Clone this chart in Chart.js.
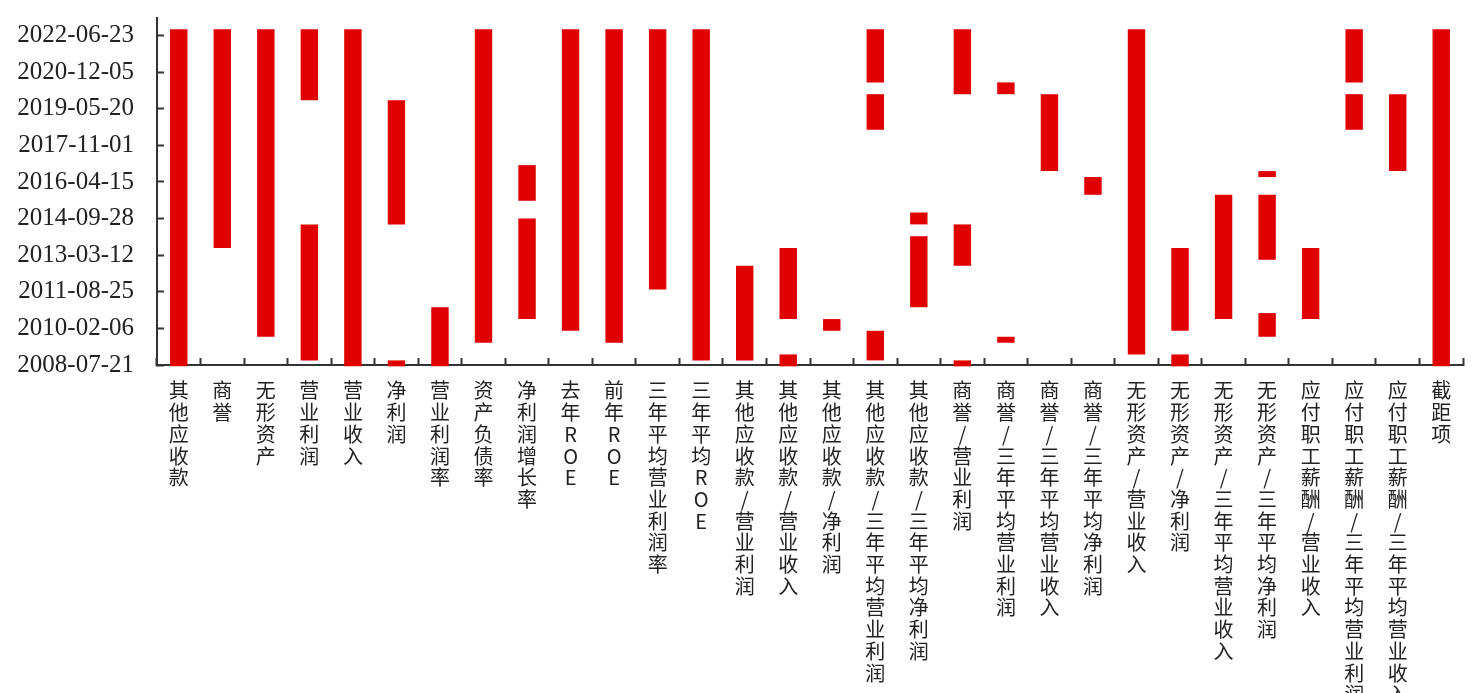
<!DOCTYPE html>
<html>
<head>
<meta charset="utf-8">
<script src="https://cdn.jsdelivr.net/npm/chart.js@4/dist/chart.umd.min.js"></script>
<style>
html, body { margin: 0; padding: 0; background: #fff; }
#wrap { width: 1479px; height: 693px; position: relative; }
</style>
</head>
<body>
<div id="wrap"><canvas id="chart"></canvas></div>
<script>
// categories (x axis)
const categories = [
  '其他应收款', '商誉', '无形资产', '营业利润', '营业收入', '净利润', '营业利润率', '资产负债率',
  '净利润增长率', '去年ROE', '前年ROE', '三年平均营业利润率', '三年平均ROE',
  '其他应收款/营业利润', '其他应收款/营业收入', '其他应收款/净利润',
  '其他应收款/三年平均营业利润', '其他应收款/三年平均净利润',
  '商誉/营业利润', '商誉/三年平均营业利润', '商誉/三年平均营业收入', '商誉/三年平均净利润',
  '无形资产/营业收入', '无形资产/净利润', '无形资产/三年平均营业收入', '无形资产/三年平均净利润',
  '应付职工薪酬/营业收入', '应付职工薪酬/三年平均营业利润', '应付职工薪酬/三年平均营业收入', '截距项'
];

// date ranges, newest segment first, one entry per category
const segA = [
  ['2008-06-30', '2022-09-30'], ['2013-06-30', '2022-09-30'], ['2009-09-30', '2022-09-30'],
  ['2019-09-30', '2022-09-30'], ['2008-06-30', '2022-09-30'], ['2014-06-30', '2019-09-30'],
  ['2008-06-30', '2010-12-31'], ['2009-06-30', '2022-09-30'], ['2015-06-30', '2016-12-31'],
  ['2009-12-31', '2022-09-30'], ['2009-06-30', '2022-09-30'], ['2011-09-30', '2022-09-30'],
  ['2008-09-30', '2022-09-30'], ['2008-09-30', '2012-09-30'], ['2010-06-30', '2013-06-30'],
  ['2009-12-31', '2010-06-30'], ['2020-06-30', '2022-09-30'], ['2014-06-30', '2014-12-31'],
  ['2019-12-31', '2022-09-30'], ['2019-12-31', '2020-06-30'], ['2016-09-30', '2019-12-31'],
  ['2015-09-30', '2016-06-30'], ['2008-12-31', '2022-09-30'], ['2009-12-31', '2013-06-30'],
  ['2010-06-30', '2015-09-30'], ['2016-06-30', '2016-09-30'], ['2010-06-30', '2013-06-30'],
  ['2020-06-30', '2022-09-30'], ['2016-09-30', '2019-12-31'], ['2008-06-30', '2022-09-30']
];
const segB = [
  null, null, null, ['2008-09-30', '2014-06-30'], null, ['2008-06-30', '2008-09-30'],
  null, null, ['2010-06-30', '2014-09-30'], null, null, null,
  null, null, ['2008-06-30', '2008-12-31'], null, ['2018-06-30', '2019-12-31'], ['2010-12-31', '2013-12-31'],
  ['2012-09-30', '2014-06-30'], ['2009-06-30', '2009-09-30'], null, null, null, ['2008-06-30', '2008-12-31'],
  null, ['2012-12-31', '2015-09-30'], null, ['2018-06-30', '2019-12-31'], null, null
];
const segC = [
  null, null, null, null, null, null, null, null, null, null, null, null, null, null, null, null,
  ['2008-09-30', '2009-12-31'], null, ['2008-06-30', '2008-09-30'], null, null, null, null, null,
  null, ['2009-09-30', '2010-09-30'], null, null, null, null
];

// y axis tick labels
const yTickLabels = [
  '2008-07-21', '2010-02-06', '2011-08-25', '2013-03-12', '2014-09-28',
  '2016-04-15', '2017-11-01', '2019-05-20', '2020-12-05', '2022-06-23'
];

function toDay(s) {
  const p = s.split('-').map(Number);
  return Date.UTC(p[0], p[1] - 1, p[2]) / 86400000;
}
function fromDay(d) {
  return new Date(Math.round(d) * 86400000).toISOString().slice(0, 10);
}
function toRange(seg) {
  return seg ? [toDay(seg[0]), toDay(seg[1])] : null;
}

const yTicks = yTickLabels.map(toDay);
const yMin = yTicks[0];
const yMax = yTicks[0] + 9.48 * (yTicks[1] - yTicks[0]);

const red = '#e00000';
const axisColor = '#333';

const datasets = [segA, segB, segC].map(seg => ({
  data: seg.map(toRange),
  backgroundColor: red,
  borderWidth: 0,
  barPercentage: 0.4,
  categoryPercentage: 1.0,
  clip: false
}));

new Chart(document.getElementById('chart').getContext('2d'), {
  type: 'bar',
  data: { labels: categories, datasets: datasets },
  options: {
    responsive: true,
    maintainAspectRatio: false,
    animation: false,
    layout: { padding: { top: 18, right: 16, left: 0, bottom: 0 } },
    plugins: { legend: { display: false }, tooltip: { enabled: false } },
    scales: {
      x: {
        stacked: true,
        offset: true,
        grid: { offset: true, drawOnChartArea: false, tickLength: -7, tickWidth: 2, tickColor: axisColor },
        border: { color: axisColor, width: 2 },
        ticks: {
          autoSkip: false,
          maxRotation: 0,
          minRotation: 0,
          padding: 22,
          color: '#222',
          font: { family: '"Noto Sans CJK SC", sans-serif', size: 20, lineHeight: 1.085 },
          callback: (v, i) => categories[i].split('')
        },
        afterFit: scale => { scale.height = 328; scale.paddingLeft = 0; scale.paddingRight = 0; }
      },
      y: {
        min: yMin,
        max: yMax,
        grid: { drawOnChartArea: false, tickLength: -7, tickWidth: 2, tickColor: axisColor },
        border: { color: axisColor, width: 2 },
        ticks: {
          padding: 30,
          color: '#222',
          font: { family: '"Liberation Serif", serif', size: 25 },
          callback: v => fromDay(v)
        },
        afterBuildTicks: scale => { scale.ticks = yTicks.map(v => ({ value: v })); },
        afterFit: scale => { scale.width = 157; scale.paddingTop = 0; scale.paddingBottom = 0; }
      }
    }
  }
});
</script>
</body>
</html>
